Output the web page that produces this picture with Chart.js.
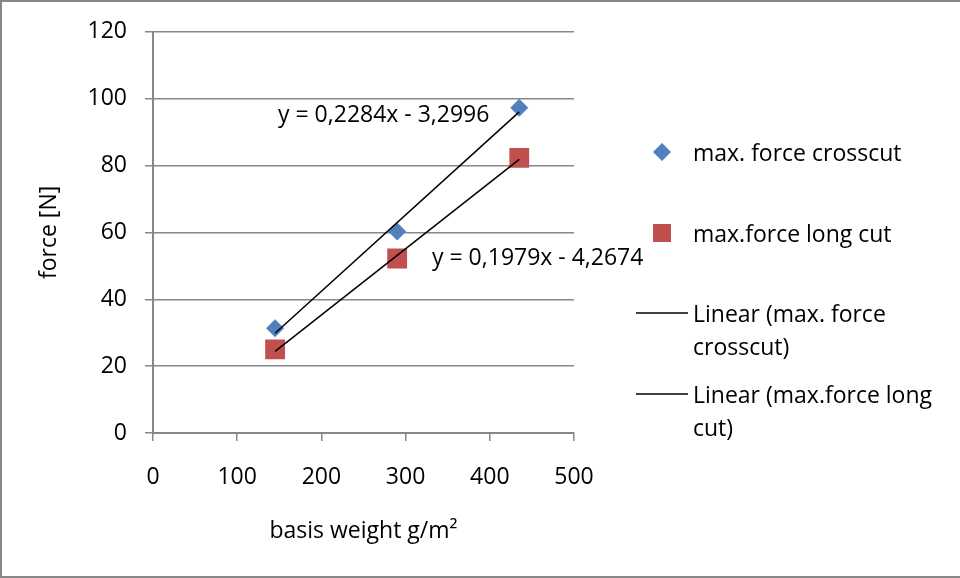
<!DOCTYPE html>
<html>
<head>
<meta charset="utf-8">
<script src="https://cdn.jsdelivr.net/npm/chart.js@4/dist/chart.umd.min.js"></script>
<style>
html,body{margin:0;padding:0;background:#fff}
#box{width:960px;height:578px;position:relative}
</style>
</head>
<body>
<div id="box"><canvas id="forceChart"></canvas></div>
<script>
// basis weight (g/m²) and measured max. force (N)
const weights=[145,290,435];
const forceCrosscut=[31.3,60.3,97.3];
const forceLongCut=[25.0,52.2,82.3];
// linear trendline coefficients: y = slope*x + intercept
const slopes=[0.2284,0.1979];
const intercepts=[-3.2996,-4.2674];
const xTicks=[0,100,200,300,400,500];
const yTicks=[0,20,40,60,80,100,120];

const seriesNames=['max. force crosscut','max.force long cut'];
const blue='#4f81bd', red='#c0504d', gridCol='#888888';
const FONT='"Open Sans", Lato, sans-serif';
const FS=23;

const trend=i=>{
  const a=weights[0], b=weights[weights.length-1];
  return [{x:a,y:slopes[i]*a+intercepts[i]},{x:b,y:slopes[i]*b+intercepts[i]}];
};
const eqText=i=>{
  const f=v=>Math.abs(v).toFixed(4).replace('.',',');
  return 'y = '+f(slopes[i])+'x '+(intercepts[i]<0?'-':'+')+' '+f(intercepts[i]);
};

// frame, equations and the right-hand legend
const extras={
  id:'extras',
  afterDraw(chart){
    const c=chart.ctx;
    c.save();
    c.strokeStyle='#878787';c.lineWidth=2;
    c.beginPath();
    c.moveTo(961,1);c.lineTo(1,1);c.lineTo(1,577);c.lineTo(961,577);
    c.stroke();

    c.font=FS+'px '+FONT;
    c.fillStyle='#000';
    c.textBaseline='middle';
    c.textAlign='left';
    c.fillText(eqText(0),278,115);
    c.fillText(eqText(1),432,258);

    const ds=chart.data.datasets;
    const tx=693;
    // marker entries
    c.fillStyle=ds[0].backgroundColor;
    c.beginPath();
    c.moveTo(662,143);c.lineTo(671,152);c.lineTo(662,161);c.lineTo(653,152);
    c.closePath();c.fill();
    c.fillStyle='#000';
    c.fillText(ds[0].label,tx,154);
    c.fillStyle=ds[1].backgroundColor;
    c.fillRect(653,224,18,18);
    c.fillStyle='#000';
    c.fillText(ds[1].label,tx,235);
    // trendline entries, wrapped
    const wrap=(text,maxW)=>{
      const words=text.split(' ');const out=[];let cur='';
      words.forEach(w=>{
        const t=cur?cur+' '+w:w;
        if(cur&&c.measureText(t).width>maxW){out.push(cur);cur=w;}else cur=t;
      });
      out.push(cur);return out;
    };
    [[ds[2],313],[ds[3],394]].forEach(([d,y])=>{
      c.strokeStyle=d.borderColor;c.lineWidth=1.5;
      c.beginPath();c.moveTo(636,y);c.lineTo(688,y);c.stroke();
      wrap(d.label,262).forEach((ln,k)=>c.fillText(ln,tx,y+2+k*33));
    });
    c.restore();
  }
};

new Chart(document.getElementById('forceChart'),{
  type:'scatter',
  data:{datasets:[
    {label:seriesNames[0],data:weights.map((x,i)=>({x,y:forceCrosscut[i]})),
     backgroundColor:blue,borderWidth:0,pointStyle:'rectRot',pointRadius:9,pointHoverRadius:9,order:2},
    {label:seriesNames[1],data:weights.map((x,i)=>({x,y:forceLongCut[i]})),
     backgroundColor:red,borderWidth:0,pointStyle:'rect',pointRadius:14,pointHoverRadius:14,order:2},
    {label:'Linear ('+seriesNames[0]+')',data:trend(0),showLine:true,borderColor:'#000',borderWidth:1.5,pointRadius:0,order:1},
    {label:'Linear ('+seriesNames[1]+')',data:trend(1),showLine:true,borderColor:'#000',borderWidth:1.5,pointRadius:0,order:1}
  ]},
  options:{
    responsive:true,maintainAspectRatio:false,animation:false,
    layout:{padding:{top:30,right:386,bottom:0,left:0}},
    plugins:{legend:{display:false},tooltip:{enabled:false}},
    scales:{
      x:{type:'linear',min:0,max:500,
        afterBuildTicks:s=>{s.ticks=xTicks.map(v=>({value:v}));},
        afterFit:s=>{s.height=145;},
        grid:{drawOnChartArea:false,drawTicks:true,tickLength:8,color:gridCol,lineWidth:1.5},
        border:{display:true,color:gridCol,width:2},
        ticks:{color:'#000',padding:23,font:{family:FONT,size:FS}},
        title:{display:true,text:'basis weight g/m²',color:'#000',font:{family:FONT,size:FS},padding:{top:0,bottom:33}}
      },
      y:{min:0,max:120,
        afterBuildTicks:s=>{s.ticks=yTicks.map(v=>({value:v}));},
        afterFit:s=>{s.width=153;},
        grid:{drawTicks:true,tickLength:8,color:gridCol,lineWidth:1.5},
        border:{display:true,color:gridCol,width:2},
        ticks:{color:'#000',padding:18,font:{family:FONT,size:FS}},
        title:{display:true,text:'force [N]',color:'#000',font:{family:FONT,size:FS},padding:{top:36,bottom:0}}
      }
    }
  },
  plugins:[extras]
});
</script>
</body>
</html>
